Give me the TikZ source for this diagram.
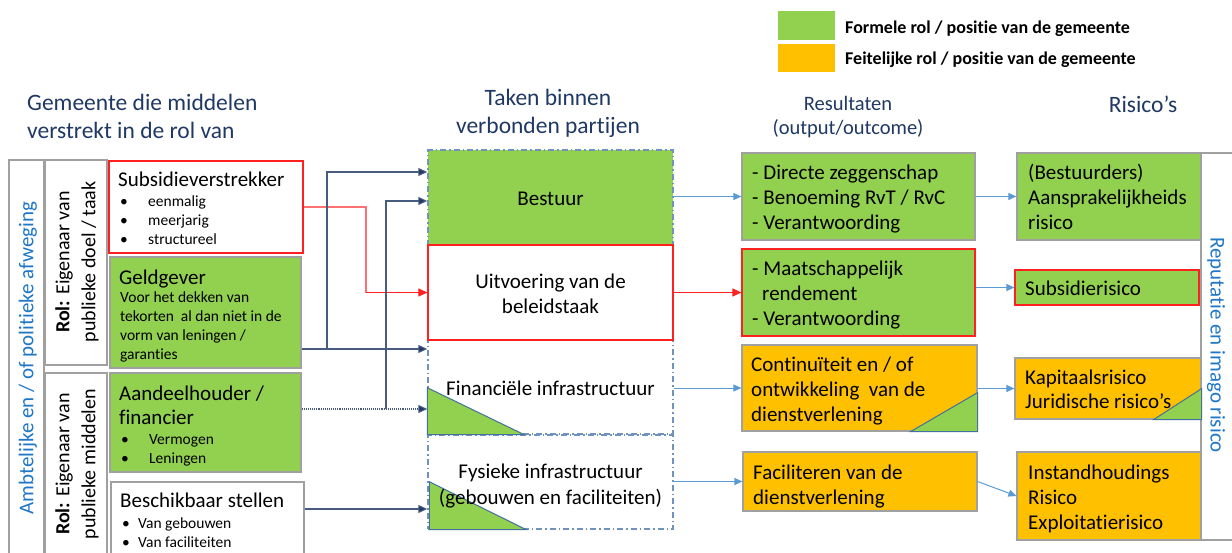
\documentclass[tikz,border=0pt]{standalone}
\usepackage{fontspec}
\setmainfont{Carlito}[Ligatures={NoCommon}]
\usetikzlibrary{arrows.meta,fit}
\definecolor{cgreen}{HTML}{92D050}
\definecolor{corange}{HTML}{FFC000}
\definecolor{cnavy}{HTML}{1F3864}
\definecolor{cline}{HTML}{485C80}
\definecolor{clblue}{HTML}{5B9BD5}
\definecolor{cvblue}{HTML}{1F77C8}
\definecolor{cred}{HTML}{FF2020}
\definecolor{clred}{HTML}{FF7070}
\definecolor{cgray}{HTML}{A0A0A0}
\definecolor{cdash}{HTML}{7092BE}
\definecolor{ctri}{HTML}{41719C}
\newcommand\fmain{\fontsize{21}{25}\selectfont}
\newcommand\fsml{\fontsize{15.5}{19}\selectfont}
\newcommand\fhdr{\fontsize{23.5}{28}\selectfont}
\newcommand\fres{\fontsize{20.5}{24}\selectfont}
\newcommand\fleg{\fontsize{18}{22}\selectfont\bfseries}
\newcommand\frot{\fontsize{20}{26}\selectfont}
\begin{document}
\begin{tikzpicture}[x=1pt,y=-1pt,
  boxbase/.style={inner sep=0pt, line width=1.2pt},
  gbox/.style={boxbase, fill=cgreen, draw=cgray},
  obox/.style={boxbase, fill=corange, draw=cgray},
  wbox/.style={boxbase, fill=white, draw=cgray},
  rbox/.style={boxbase, fill=white, draw=cred},
  grbox/.style={boxbase, fill=cgreen, draw=cred},
  dbox/.style={boxbase, draw=cdash, line width=1.4pt, dash pattern=on 6pt off 3pt on 1.5pt off 3pt},
  tx/.style={inner sep=0pt, anchor=base west, font=\fmain},
  txc/.style={inner sep=0pt, anchor=base, font=\fmain},
  sx/.style={inner sep=0pt, anchor=base west, font=\fsml},
  hx/.style={inner sep=0pt, font=\fhdr, text=cnavy},
  tri/.style={fill=cgreen, draw=ctri, line width=1pt},
  nline/.style={draw=cline, line width=1.1pt},
  ntip/.style={-{Triangle[length=9pt,width=8pt,fill=cnavy]}, },
  bline/.style={draw=clblue, line width=1pt, -{Triangle[length=8pt,width=7pt]}},
  rline/.style={draw=cred, line width=1.1pt, -{Triangle[length=9pt,width=8pt]}}
]
\useasboundingbox (0,0) rectangle (1232,552);

% legend
\node[boxbase, fill=cgreen, fit={(778,11) (835,40)}] (lg1) {};
\node[boxbase, fill=corange, fit={(778,44) (835,72)}] (lg2) {};
\node[inner sep=0pt, anchor=base west, font=\fleg] (lg1t) at (845,33) {Formele rol / positie van de gemeente};
\node[inner sep=0pt, anchor=base west, font=\fleg] (lg2t) at (845,64) {Feitelijke rol / positie van de gemeente};

% headers
\node[hx, anchor=base west] (h1a) at (27,110) {Gemeente die middelen};
\node[hx, anchor=base west] (h1b) at (27,138) {verstrekt in de rol van};
\node[hx, anchor=base] (h2a) at (548,105) {Taken binnen};
\node[hx, anchor=base] (h2b) at (548,133) {verbonden partijen};
\node[hx, anchor=base, font=\fres] (h3a) at (848,110) {Resultaten};
\node[hx, anchor=base, font=\fres] (h3b) at (848,134) {(output/outcome)};
\node[hx, anchor=base] (h4) at (1143,112) {Risico’s};

% left columns
\node[wbox, fit={(9,160) (44,556)}] (amb) {};
\node[wbox, fit={(45,160) (107,365)}] (rol1) {};
\node[wbox, fit={(45,373) (107,556)}] (rol2) {};
\node[rotate=90, inner sep=0pt, font=\fontsize{21}{25}\selectfont, text=cvblue] (ambt) at (28,358) {Ambtelijke en / of politieke afweging};
\node[rotate=90, inner sep=0pt, align=center, font=\frot] (rol1t) at (77,262) {\textbf{Rol:} Eigenaar van\\publieke doel / taak};
\node[rotate=90, inner sep=0pt, align=center, font=\frot] (rol2t) at (77,464) {\textbf{Rol:} Eigenaar van\\publieke middelen};

% left boxes
\node[rbox, fit={(109,161) (303,253)}] (subs) {};
\node[tx] (subst) at (118,186) {Subsidieverstrekker};
\node[sx] (subsb1) at (120,206) {\textbullet};
\node[sx] (subs1) at (148,206) {eenmalig};
\node[sx] (subsb2) at (120,225) {\textbullet};
\node[sx] (subs2) at (148,225) {meerjarig};
\node[sx] (subsb3) at (120,244) {\textbullet};
\node[sx] (subs3) at (148,244) {structureel};

\node[gbox, fit={(110,257) (301,368)}] (geld) {};
\node[tx] (geldt) at (119,284) {Geldgever};
\node[sx] (geld1) at (120,302) {Voor het dekken van};
\node[sx] (geld2) at (120,321) {tekorten\ \ al dan niet in de};
\node[sx] (geld3) at (120,340) {vorm van leningen /};
\node[sx] (geld4) at (120,359) {garanties};

\node[gbox, fit={(110,373) (301,472)}] (aand) {};
\node[tx] (aandt1) at (119,400) {Aandeelhouder /};
\node[tx] (aandt2) at (119,424) {financier};
\node[sx] (aandb1) at (121,444) {\textbullet};
\node[sx] (aand1) at (149,444) {Vermogen};
\node[sx] (aandb2) at (121,463) {\textbullet};
\node[sx] (aand2) at (149,463) {Leningen};

\node[wbox, fit={(111,482) (304,556)}] (besch) {};
\node[tx] (bescht) at (120,507) {Beschikbaar stellen};
\node[sx] (beschb1) at (122,528) {\textbullet};
\node[sx] (besch1) at (138,528) {Van gebouwen};
\node[sx] (beschb2) at (122,547) {\textbullet};
\node[sx] (besch2) at (138,547) {Van faciliteiten};

% middle boxes
\node[dbox, fit={(428,435) (673,529)}] (fys) {};
\fill[tri] (fys.south west) ++(2,0) -- ++(0,-48) -- ++(97,48) -- cycle;
\node[dbox, fit={(428,340) (673,434)}] (fin) {};
\fill[tri] (fin.south west) -- ++(0,-47) -- ++(97,47) -- cycle;
\node[dbox, fill=cgreen, fit={(428,150) (673,245)}] (best) {};
\node[rbox, fit={(428,245) (673,340)}] (uitv) {};
\node[txc] (bestt) at (550.5,205) {Bestuur};
\node[txc] (uitvt1) at (550.5,288) {Uitvoering van de};
\node[txc] (uitvt2) at (550.5,313) {beleidstaak};
\node[txc] (fint) at (550.5,395) {Financiële infrastructuur};
\node[txc] (fyst1) at (550.5,478) {Fysieke infrastructuur};
\node[txc] (fyst2) at (550.5,504) {(gebouwen en faciliteiten)};

% results
\node[gbox, fit={(742,153) (975,240)}] (r1) {};
\node[tx] (r1a) at (752,179) {- Directe zeggenschap};
\node[tx] (r1b) at (752,204) {- Benoeming RvT / RvC};
\node[tx] (r1c) at (752,229) {- Verantwoording};
\node[grbox, fit={(742,249) (975,336)}] (r2) {};
\node[tx] (r2a) at (752,275) {- Maatschappelijk};
\node[tx] (r2b) at (762,300) {rendement};
\node[tx] (r2c) at (752,325) {- Verantwoording};
\node[obox, fit={(742,345) (977,431)}] (r3) {};
\fill[tri] (r3.south east) -- ++(0,-39) -- ++(-67,39) -- cycle;
\node[tx] (r3a) at (751,371) {Continuïteit en / of};
\node[tx] (r3b) at (751,396) {ontwikkeling\ \ van de};
\node[tx] (r3c) at (751,421) {dienstverlening};
\node[obox, fit={(743,452) (977,511)}] (r4) {};
\node[tx] (r4a) at (753,479) {Faciliteren van de};
\node[tx] (r4b) at (753,504) {dienstverlening};

% risks
\node[wbox, fit={(1201,153) (1240,540)}] (rep) {};
\node[rotate=-90, inner sep=0pt, font=\fontsize{21}{25}\selectfont, text=cvblue] (rept) at (1216,345) {Reputatie en imago risico};
\node[gbox, fit={(1017,153) (1201,240)}] (k1) {};
\node[tx] (k1a) at (1028,179) {(Bestuurders)};
\node[tx] (k1b) at (1028,204) {Aansprakelijkheids};
\node[tx] (k1c) at (1028,229) {risico};
\node[grbox, fit={(1015,270) (1199,305)}] (k2) {};
\node[tx] (k2a) at (1025,295) {Subsidierisico};
\node[obox, fit={(1015,358) (1201,419)}] (k3) {};
\fill[tri] (k3.south east) -- ++(0,-31) -- ++(-48,31) -- cycle;
\node[tx] (k3a) at (1025,384) {Kapitaalsrisico};
\node[tx] (k3b) at (1025,408) {Juridische risico’s};
\node[obox, fit={(1017,452) (1201,540)}] (k4) {};
\node[tx] (k4a) at (1028,479) {Instandhoudings};
\node[tx] (k4b) at (1028,504) {Risico};
\node[tx] (k4c) at (1028,529) {Exploitatierisico};

% connector helper coordinates
\coordinate (yA) at (0,172);
\coordinate (yB) at (0,201);
\coordinate (yC) at (0,349);
\coordinate (yD) at (0,409);
\coordinate (yE) at (0,509);
\coordinate (xA) at (327,0);
\coordinate (xB) at (386,0);
\coordinate (xR) at (366,0);

% left connectors
\draw[draw=clred, line width=1.1pt] (subs.east) -- (xR |- subs.east) -- (xR |- uitv.west);
\draw[rline] (xR |- uitv.west) -- (uitv.west);
\draw[nline, ntip] (geld.east |- yC) -- (fin.west |- yC);
\draw[nline, ntip] (xA |- yC) -- (xA |- yA) -- (best.west |- yA);
\draw[draw=cline, line width=1.1pt, densely dotted, ntip] (aand.east |- yD) -- (fin.west |- yD);
\draw[nline, ntip] (xB |- yD) -- (xB |- yB) -- (best.west |- yB);
\draw[nline, ntip] (besch.east |- yE) -- (fys.west |- yE);

% middle to results
\draw[bline] (best.east |- r1.west) -- (r1.west);
\draw[rline] (uitv.east) -- (r2.west);
\draw[bline] (fin.east |- r3.west) -- (r3.west);
\draw[bline] (fys.east |- r4.west) -- (r4.west);

% results to risks
\draw[bline] (r1.east) -- (k1.west);
\draw[bline] (r2.east |- k2.west) -- (k2.west);
\draw[bline] (r3.east |- k3.west) -- (k3.west);
\draw[bline] (r4.east) -- (k4.west);
\end{tikzpicture}
\end{document}
